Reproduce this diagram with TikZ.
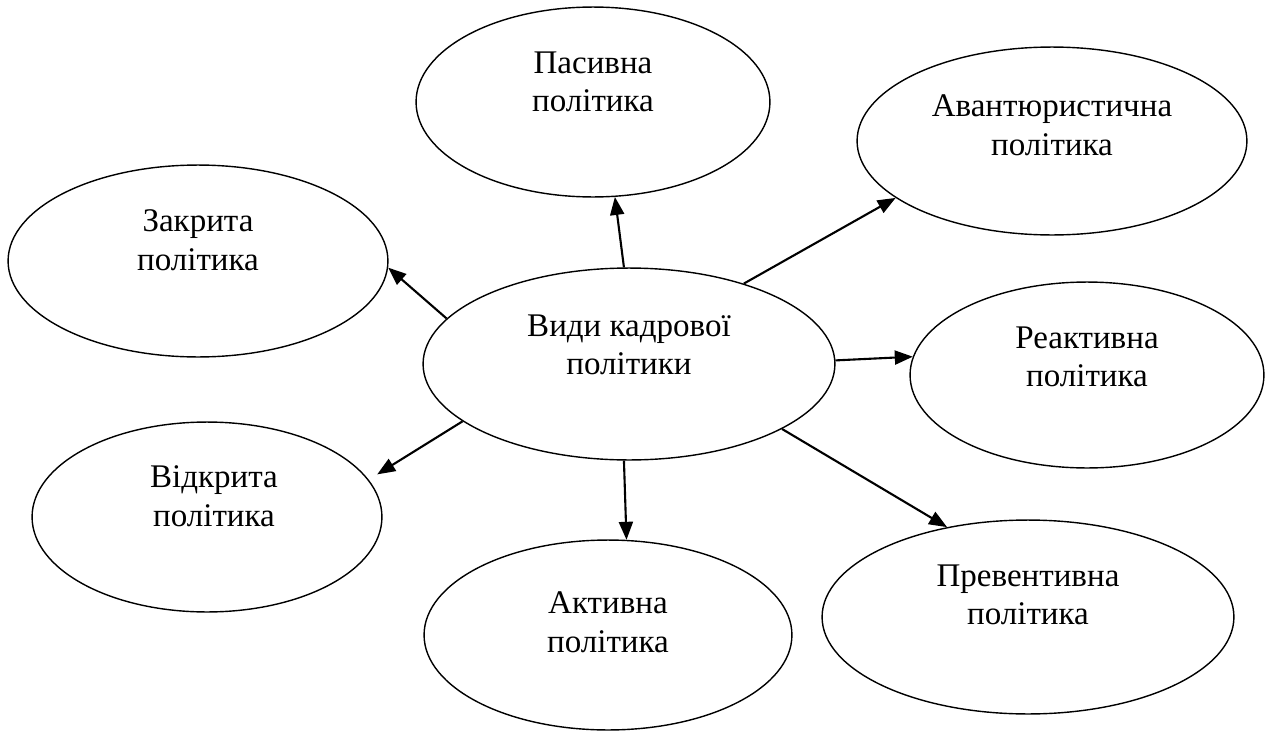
\documentclass[tikz,border=0pt]{standalone}
\usepackage{fontspec}
\setmainfont{Liberation Serif}
\usetikzlibrary{shapes.geometric,arrows.meta,calc}

\begin{document}
\begin{tikzpicture}[x=0.02cm,y=-0.02cm,
    oval/.style 2 args={ellipse,draw,line width=0.8pt,inner sep=0pt,
      minimum width=#1*0.04cm,minimum height=#2*0.04cm},
    txt/.style={align=center,font=\fontsize{18.8}{22}\selectfont},
    arr/.style={-{Triangle[length=0.36cm,width=0.28cm]},line width=1.2pt}]
    \useasboundingbox (0,0) rectangle (1269,734);
    \node[oval={206}{96}] (kind) at (629,364) {};
    \node[oval={177}{95}] (pas) at (593,102) {};
    \node[oval={195}{94}] (avt) at (1052,141) {};
    \node[oval={190}{96}] (zak) at (198,261) {};
    \node[oval={177}{93}] (rea) at (1087,375) {};
    \node[oval={175}{95}] (vid) at (207,517) {};
    \node[oval={184}{95}] (akt) at (608,635) {};
    \node[oval={206}{97}] (prv) at (1028,617) {};

    \node[txt] (kind-t) at ($(kind)+(0,-19)$) {Види кадрової\\політики};
    \node[txt] (pas-t) at ($(pas)+(0,-20)$) {Пасивна\\політика};
    \node[txt] (avt-t) at ($(avt)+(0,-16)$) {Авантюристична\\політика};
    \node[txt] (zak-t) at ($(zak)+(0,-21)$) {Закрита\\політика};
    \node[txt] (rea-t) at ($(rea)+(0,-18)$) {Реактивна\\політика};
    \node[txt] (vid-t) at ($(vid)+(7,-21)$) {Відкрита\\політика};
    \node[txt] (akt-t) at ($(akt)+(0,-13)$) {Активна\\політика};
    \node[txt] (prv-t) at ($(prv)+(0,-22)$) {Превентивна\\політика};

    \draw[arr] (kind.93.6) -- (pas.-77);
    \draw[arr] (kind.35.4) -- (avt.200.2);
    \draw[arr] (kind.166.4) -- (zak.-2.4);
    \draw[arr] (kind.1.7) -- (rea.174.4);
    \draw[arr,shorten >=0.2cm] (kind.199.2) -- (vid.13.2);
    \draw[arr] (kind.267.6) -- (akt.79.9);
    \draw[arr] (kind.-23.3) -- (prv.132);
\end{tikzpicture}
\end{document}
